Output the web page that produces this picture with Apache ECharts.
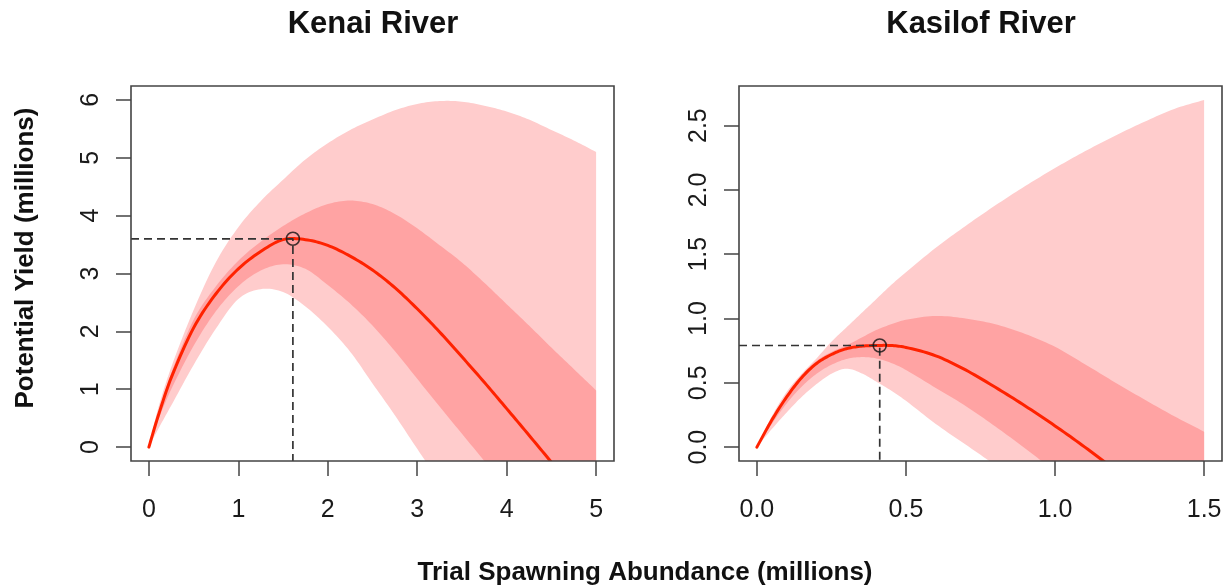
<!DOCTYPE html>
<html>
<head>
<meta charset="utf-8">
<script src="https://cdn.jsdelivr.net/npm/echarts@6/dist/echarts.min.js"></script>
<style>html,body{margin:0;padding:0;background:#fff}#c{width:1229px;height:586px}</style>
</head>
<body>
<div id="c"></div>
<script>
// ---------- DATA ----------
const panelTitles = ['Kenai River', 'Kasilof River'];
const yTitle = 'Potential Yield (millions)';
const xTitle = 'Trial Spawning Abundance (millions)';

// Kenai River
const kenaiX          = [0, 0.1, 0.25, 0.5, 0.75, 1, 1.25, 1.5, 1.75, 2, 2.25, 2.5, 2.75, 3, 3.25, 3.5, 3.75, 4, 4.25, 4.5, 4.75, 5];
const kenaiMedian     = [0, 0.52, 1.2, 2.06, 2.65, 3.08, 3.38, 3.585, 3.585, 3.485, 3.30, 3.06, 2.755, 2.39, 1.99, 1.56, 1.12, 0.665, 0.205, -0.26, -0.73, -1.2];
const kenaiOuterLow   = [0, 0.3, 0.72, 1.42, 2.05, 2.56, 2.73, 2.68, 2.43, 2.08, 1.65, 1.1, 0.55, -0.03, -0.6, -1.2, -1.8, -2.4, -3.0, -3.6, -4.2, -4.8];
const kenaiOuterHigh  = [0, 0.65, 1.38, 2.37, 3.2, 3.8, 4.25, 4.62, 4.97, 5.25, 5.48, 5.66, 5.82, 5.93, 5.98, 5.97, 5.9, 5.8, 5.66, 5.48, 5.3, 5.1];
const kenaiInnerLow   = [0, 0.45, 1.0, 1.75, 2.35, 2.78, 3.05, 3.16, 3.08, 2.8, 2.48, 2.1, 1.66, 1.18, 0.7, 0.23, -0.24, -0.72, -1.2, -1.7, -2.2, -2.7];
const kenaiInnerHigh  = [0, 0.55, 1.28, 2.2, 2.78, 3.22, 3.55, 3.82, 4.04, 4.2, 4.26, 4.2, 4.03, 3.78, 3.49, 3.19, 2.84, 2.47, 2.1, 1.72, 1.35, 0.98];
const kenaiPeak       = [1.61, 3.6];
const kenaiXTicks     = [0, 1, 2, 3, 4, 5];
const kenaiYTicks     = [0, 1, 2, 3, 4, 5, 6];

// Kasilof River
const kasX            = [0, 0.05, 0.1, 0.15, 0.2, 0.25, 0.3, 0.35, 0.4, 0.45, 0.5, 0.6, 0.7, 0.8, 0.9, 1.0, 1.1, 1.2, 1.3, 1.4, 1.5];
const kasMedian       = [0, 0.21, 0.39, 0.54, 0.65, 0.72, 0.765, 0.785, 0.79, 0.79, 0.775, 0.71, 0.60, 0.465, 0.32, 0.165, 0.0, -0.175, -0.36, -0.555, -0.76];
const kasOuterLow     = [0, 0.14, 0.27, 0.39, 0.49, 0.57, 0.61, 0.575, 0.51, 0.44, 0.36, 0.18, 0.02, -0.14, -0.3, -0.46, -0.62, -0.78, -0.94, -1.1, -1.26];
const kasOuterHigh    = [0, 0.24, 0.43, 0.57, 0.69, 0.82, 0.93, 1.04, 1.15, 1.26, 1.36, 1.55, 1.72, 1.88, 2.03, 2.17, 2.3, 2.42, 2.53, 2.63, 2.70];
const kasInnerLow     = [0, 0.18, 0.34, 0.47, 0.57, 0.64, 0.685, 0.70, 0.69, 0.655, 0.6, 0.46, 0.32, 0.16, -0.01, -0.19, -0.37, -0.55, -0.73, -0.91, -1.09];
const kasInnerHigh    = [0, 0.22, 0.41, 0.56, 0.67, 0.74, 0.79, 0.85, 0.91, 0.955, 0.99, 1.02, 1.0, 0.955, 0.88, 0.78, 0.645, 0.505, 0.37, 0.24, 0.12];
const kasPeak         = [0.412, 0.79];
const kasXTicks       = [0, 0.5, 1.0, 1.5];
const kasYTicks       = [0, 0.5, 1.0, 1.5, 2.0, 2.5];

// axis ranges (R style 4% padding)
const kenaiXRange = [-0.2, 5.2], kenaiYRange = [-0.24, 6.24];
const kasXRange = [-0.06, 1.56], kasYRange = [-0.108, 2.808];

// ---------- STYLE ----------
const FONT = '"Liberation Sans", Arial, Helvetica, sans-serif';
const LIGHT = '#ffcccc', DARK = '#ffa3a3', RED = '#ff2200', BOX = '#444444', DASH = '#333333';

const chart = echarts.init(document.getElementById('c'), null, {renderer: 'canvas'});

// smooth (x-parameterised Hermite) rendering of pixel points
function smoothPts(pts) {
  const n = pts.length, m = [], out = [pts[0]];
  for (let i = 0; i < n; i++) {
    const a = pts[Math.max(0, i - 1)], b = pts[Math.min(n - 1, i + 1)];
    m.push((b[1] - a[1]) / (b[0] - a[0]));
  }
  const S = 10;
  for (let i = 0; i < n - 1; i++) {
    const p = pts[i], q = pts[i + 1], dx = (q[0] - p[0]) / 3;
    const c1 = [p[0] + dx, p[1] + m[i] * dx], c2 = [q[0] - dx, q[1] - m[i + 1] * dx];
    for (let k = 1; k <= S; k++) {
      const t = k / S, u = 1 - t;
      out.push([
        u*u*u*p[0] + 3*u*u*t*c1[0] + 3*u*t*t*c2[0] + t*t*t*q[0],
        u*u*u*p[1] + 3*u*u*t*c1[1] + 3*u*t*t*c2[1] + t*t*t*q[1]
      ]);
    }
  }
  return out;
}

function bandSeries(idx, xs, low, high, color, z) {
  return {
    type: 'custom', xAxisIndex: idx, yAxisIndex: idx, clip: true, silent: true, z: z,
    data: xs.map((x, i) => [x, low[i], high[i]]),
    renderItem: function (params, api) {
      if (params.dataIndex !== 0) return null;
      const up = smoothPts(xs.map((x, i) => api.coord([x, high[i]])));
      const lo = smoothPts(xs.map((x, i) => api.coord([x, low[i]])).reverse());
      return {type: 'polygon', shape: {points: up.concat(lo)}, style: {fill: color, stroke: null}};
    }
  };
}
function curveSeries(idx, xs, ys, z) {
  return {
    type: 'custom', xAxisIndex: idx, yAxisIndex: idx, clip: true, silent: true, z: z,
    data: xs.map((x, i) => [x, ys[i]]),
    renderItem: function (params, api) {
      if (params.dataIndex !== 0) return null;
      const pts = smoothPts(xs.map((x, i) => api.coord([x, ys[i]])));
      return {type: 'polyline', shape: {points: pts}, style: {stroke: RED, lineWidth: 3, fill: null, lineJoin: 'round', lineCap: 'round'}};
    }
  };
}
function panelSeries(idx, xs, med, oLo, oHi, iLo, iHi, peak, xr, yr) {
  return [
    bandSeries(idx, xs, oLo, oHi, LIGHT, 1),
    bandSeries(idx, xs, iLo, iHi, DARK, 2),
    curveSeries(idx, xs, med, 3),
    {type: 'line', xAxisIndex: idx, yAxisIndex: idx,
     data: [[xr[0], peak[1]], [peak[0], peak[1]], [peak[0], yr[0]]],
     symbol: 'none', silent: true, lineStyle: {color: DASH, width: 1.7, type: [8, 5]}, z: 4},
    {type: 'scatter', xAxisIndex: idx, yAxisIndex: idx, data: [peak], symbol: 'circle', symbolSize: 13,
     silent: true, itemStyle: {color: 'rgba(0,0,0,0)', borderColor: '#111', borderWidth: 1.6}, z: 5}
  ];
}
function xAxis(idx, r, ticks, fmt) {
  return {type: 'value', gridIndex: idx, min: r[0], max: r[1], splitLine: {show: false},
    axisLine: {show: false, onZero: false},
    axisTick: {show: true, inside: false, length: 15, customValues: ticks, lineStyle: {color: BOX, width: 1.5}},
    axisLabel: {customValues: ticks, formatter: fmt, fontSize: 25, fontFamily: FONT, color: '#1a1a1a', margin: 37}};
}
function yAxis(idx, r, ticks, fmt) {
  return {type: 'value', gridIndex: idx, min: r[0], max: r[1], splitLine: {show: false},
    axisLine: {show: false, onZero: false},
    axisTick: {show: true, inside: false, length: 15, customValues: ticks, lineStyle: {color: BOX, width: 1.5}},
    axisLabel: {customValues: ticks, formatter: fmt, rotate: 90, fontSize: 25, fontFamily: FONT, color: '#1a1a1a', margin: 27}};
}
const f0 = v => String(Math.round(v));
const f1 = v => Number(v).toFixed(1);

const option = {
  backgroundColor: '#fff',
  animation: false,
  grid: [
    {left: 131, top: 86, width: 483, height: 375, show: true, z: 10, backgroundColor: 'rgba(0,0,0,0)', borderColor: BOX, borderWidth: 1.6},
    {left: 739, top: 86, width: 483, height: 375, show: true, z: 10, backgroundColor: 'rgba(0,0,0,0)', borderColor: BOX, borderWidth: 1.6}
  ],
  xAxis: [xAxis(0, kenaiXRange, kenaiXTicks, f0), xAxis(1, kasXRange, kasXTicks, f1)],
  yAxis: [yAxis(0, kenaiYRange, kenaiYTicks, f0), yAxis(1, kasYRange, kasYTicks, f1)],
  graphic: [
    {type: 'text', x: 373, y: 24, style: {text: panelTitles[0], font: 'bold 31px ' + FONT, fill: '#111', align: 'center', verticalAlign: 'middle'}},
    {type: 'text', x: 981, y: 24, style: {text: panelTitles[1], font: 'bold 31px ' + FONT, fill: '#111', align: 'center', verticalAlign: 'middle'}},
    {type: 'text', x: 645, y: 573, style: {text: xTitle, font: 'bold 26px ' + FONT, fill: '#111', align: 'center', verticalAlign: 'middle'}},
    {type: 'text', x: 26, y: 258, rotation: Math.PI / 2, style: {text: yTitle, font: 'bold 26px ' + FONT, fill: '#111', align: 'center', verticalAlign: 'middle'}}
  ],
  series: [
    ...panelSeries(0, kenaiX, kenaiMedian, kenaiOuterLow, kenaiOuterHigh, kenaiInnerLow, kenaiInnerHigh, kenaiPeak, kenaiXRange, kenaiYRange),
    ...panelSeries(1, kasX, kasMedian, kasOuterLow, kasOuterHigh, kasInnerLow, kasInnerHigh, kasPeak, kasXRange, kasYRange)
  ]
};
chart.setOption(option);
</script>
</body>
</html>
